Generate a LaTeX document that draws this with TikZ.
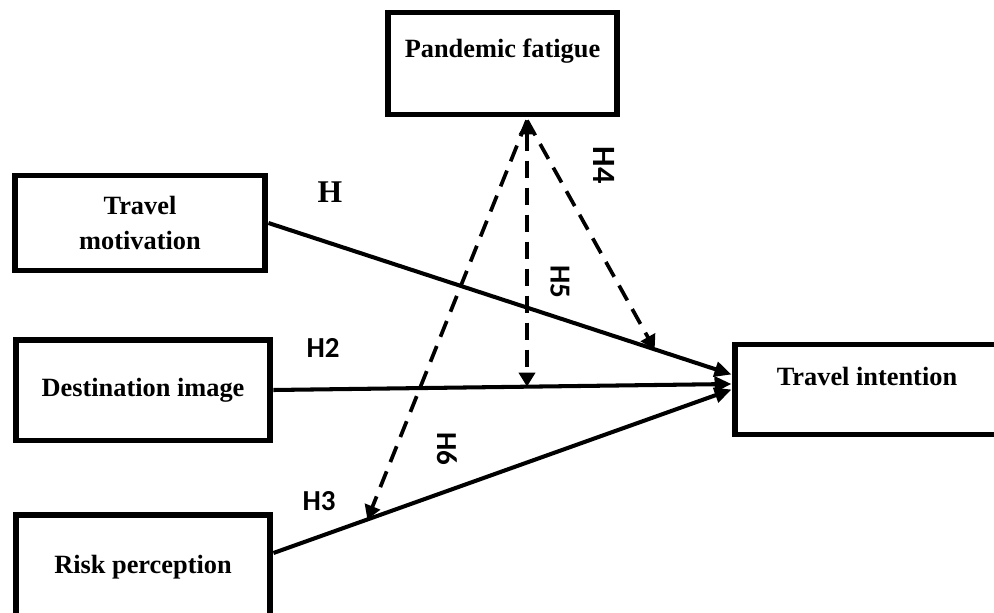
\documentclass[tikz,border=0pt]{standalone}
\usepackage{fontspec}
\setmainfont{Liberation Serif}
\newfontfamily\hypfont{Carlito}
\usetikzlibrary{arrows.meta}

\begin{document}
\begin{tikzpicture}[x=0.02cm,y=-0.02cm,line join=miter,
  varbox/.style={draw,line width=3.4pt,inner sep=0pt,align=center,font=\fontsize{15}{20}\selectfont\bfseries},
  path arrow/.style={-{Triangle[length=0.34cm,width=0.3cm]},line width=2.3pt},
  mod arrow/.style={-{Triangle[length=0.28cm,width=0.32cm]},line width=2.1pt,dash pattern=on 0.34cm off 0.2cm},
  hyp/.style={font=\hypfont\fontsize{16.5}{18}\selectfont\bfseries}]
\useasboundingbox (0,0) rectangle (994,612);
\node[varbox,minimum width=4.6cm,minimum height=2.04cm,text height=0.4cm,text depth=0.66cm] (fat) at (502.5,63.5) {Pandemic fatigue};
\node[varbox,minimum width=5.02cm,minimum height=1.9cm] (mot) at (140,223) {Travel\\motivation};
\node[varbox,minimum width=5.1cm,minimum height=2.02cm] (dest) at (143,390) {Destination image};
\node[varbox,minimum width=5.1cm,minimum height=2.1cm] (risk) at (143,567) {Risk perception};
\node[varbox,minimum width=5.3cm,minimum height=1.8cm,text height=0.4cm,text depth=0.58cm] (int) at (867,389.5) {Travel intention};
\draw[path arrow] (mot.east) -- ([yshift=0.3cm]int.west) coordinate[pos=0.834] (h4end);
\draw[path arrow] (dest.east) -- ([yshift=0.11cm]int.west) coordinate[pos=0.553] (h5end);
\draw[path arrow] ([yshift=0.28cm]risk.east) -- (int.west) coordinate[pos=0.205] (h6end);
\coordinate (apex) at ([xshift=0.49cm,yshift=-0.06cm]fat.south);
\draw[mod arrow] (apex) -- (h4end);
\draw[mod arrow,{Triangle[length=0.28cm,width=0.32cm]}-{Triangle[length=0.28cm,width=0.32cm]}] (apex) -- (apex |- h5end);
\draw[mod arrow] (apex) -- (h6end);
\node[font=\fontsize{18}{20}\selectfont\bfseries] (lh1) at (330,192) {H};
\node[hyp] (lh2) at (323,348) {H2};
\node[hyp] (lh3) at (319,501) {H3};
\node[hyp,rotate=-90,font=\hypfont\fontsize{18.5}{20}\selectfont\bfseries] (lh4) at (604,165) {H4};
\node[hyp,rotate=-90] (lh5) at (560,282) {H5};
\node[hyp,rotate=-90] (lh6) at (447,449) {H6};
\end{tikzpicture}
\end{document}
